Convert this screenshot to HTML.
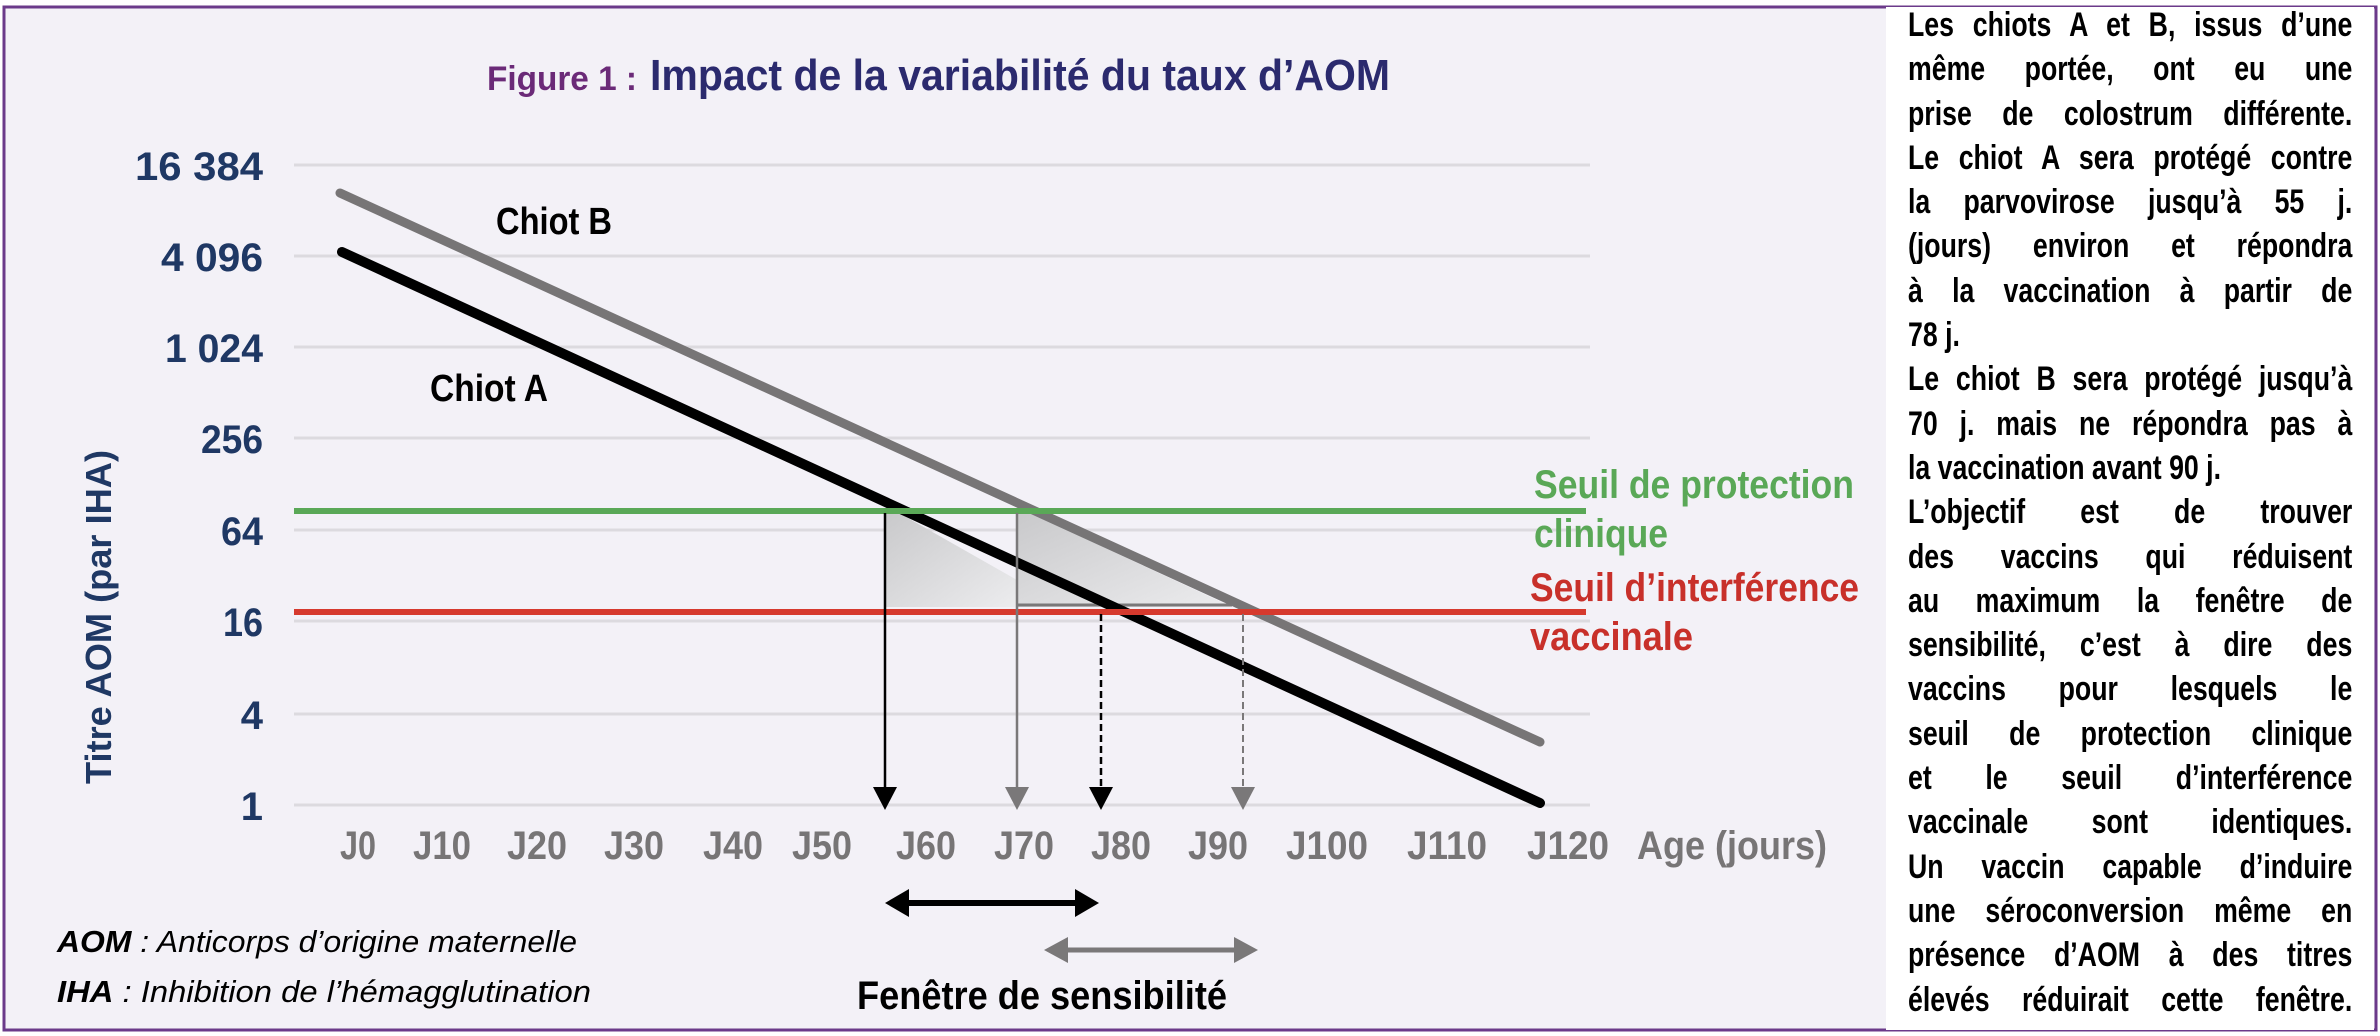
<!DOCTYPE html>
<html><head><meta charset="utf-8"><style>
html,body{margin:0;padding:0;background:#fff;}
#wrap{position:relative;width:2380px;height:1036px;overflow:hidden;}
svg{position:absolute;left:0;top:0;}
#panel{position:absolute;left:1886px;top:7px;width:488px;height:1023px;background:#fff;overflow:hidden;}
#txt{position:absolute;left:22px;top:-4px;width:566px;transform:scaleX(0.785);transform-origin:0 0;font-family:"Liberation Sans",sans-serif;font-weight:bold;font-size:34px;color:#000;}
#txt div{height:44.3px;line-height:44.3px;text-align:justify;text-align-last:justify;white-space:nowrap;overflow:visible;}
#txt div.l{text-align-last:left;}
</style></head><body><div id="wrap">
<svg width="2380" height="1036" viewBox="0 0 2380 1036" font-family="Liberation Sans, sans-serif" font-weight="bold">
<defs><linearGradient id="g" x1="0" y1="0" x2="1" y2="1"><stop offset="0" stop-color="#c9c9cb"/><stop offset="1" stop-color="#ececee"/></linearGradient></defs>
<rect x="4" y="7" width="2372" height="1023" fill="#f3f1f7" stroke="#6b3a8a" stroke-width="3"/>
<text x="487" y="90" font-size="34" fill="#6b2a78" textLength="150" lengthAdjust="spacingAndGlyphs">Figure 1 :</text>
<text x="650" y="90" font-size="44" fill="#2b2a6e" textLength="740" lengthAdjust="spacingAndGlyphs">Impact de la variabilité du taux d’AOM</text>
<g stroke="#dcdadf" stroke-width="3">
<line x1="294" y1="165" x2="1590" y2="165"/><line x1="294" y1="256" x2="1590" y2="256"/>
<line x1="294" y1="347" x2="1590" y2="347"/><line x1="294" y1="438" x2="1590" y2="438"/>
<line x1="294" y1="530" x2="1590" y2="530"/><line x1="294" y1="621" x2="1590" y2="621"/>
<line x1="294" y1="714" x2="1590" y2="714"/><line x1="294" y1="805" x2="1590" y2="805"/>
</g>
<g font-size="40" fill="#1f3864" text-anchor="end">
<text x="263" y="180" textLength="128" lengthAdjust="spacingAndGlyphs">16 384</text>
<text x="263" y="271" textLength="102" lengthAdjust="spacingAndGlyphs">4 096</text>
<text x="263" y="362" textLength="98" lengthAdjust="spacingAndGlyphs">1 024</text>
<text x="263" y="453" textLength="62" lengthAdjust="spacingAndGlyphs">256</text>
<text x="263" y="545" textLength="42" lengthAdjust="spacingAndGlyphs">64</text>
<text x="263" y="636" textLength="40" lengthAdjust="spacingAndGlyphs">16</text>
<text x="263" y="729">4</text>
<text x="263" y="820">1</text>
</g>
<text transform="translate(111,784) rotate(-90)" font-size="36" fill="#1f3864" textLength="334" lengthAdjust="spacingAndGlyphs">Titre AOM (par IHA)</text>
<polygon points="885,513 899,513 1017,580 1017,607 885,607" fill="url(#g)"/>
<polygon points="1017,513 1030,513 1232,607 1017,607" fill="url(#g)"/>
<line x1="1017" y1="605" x2="1232" y2="605" stroke="#7a7879" stroke-width="3"/>
<line x1="340" y1="193" x2="1540" y2="742" stroke="#777576" stroke-width="9" stroke-linecap="round"/>
<line x1="342" y1="252" x2="1540" y2="803" stroke="#000" stroke-width="10" stroke-linecap="round"/>
<line x1="294" y1="511" x2="1586" y2="511" stroke="#5aa857" stroke-width="6"/>
<line x1="294" y1="612" x2="1586" y2="612" stroke="#d63a2e" stroke-width="6"/>
<line x1="885" y1="513" x2="885" y2="790" stroke="#000" stroke-width="2.5"/>
<polygon points="873,787 897,787 885,810" fill="#000"/>
<line x1="1017" y1="513" x2="1017" y2="790" stroke="#7a7879" stroke-width="2.5"/>
<polygon points="1005,787 1029,787 1017,810" fill="#7a7879"/>
<line x1="1101" y1="614" x2="1101" y2="790" stroke="#000" stroke-width="2.5" stroke-dasharray="7,4"/>
<polygon points="1089,787 1113,787 1101,810" fill="#000"/>
<line x1="1243" y1="614" x2="1243" y2="790" stroke="#7a7879" stroke-width="2" stroke-dasharray="7,4"/>
<polygon points="1231,787 1255,787 1243,810" fill="#7a7879"/>
<text x="496" y="234" font-size="38" fill="#000" textLength="116" lengthAdjust="spacingAndGlyphs">Chiot B</text>
<text x="430" y="401" font-size="38" fill="#000" textLength="118" lengthAdjust="spacingAndGlyphs">Chiot A</text>
<g font-size="40" fill="#5aa857"><text x="1534" y="498" textLength="320" lengthAdjust="spacingAndGlyphs">Seuil de protection</text>
<text x="1534" y="547" textLength="134" lengthAdjust="spacingAndGlyphs">clinique</text></g>
<g font-size="40" fill="#c8302a"><text x="1530" y="601" textLength="329" lengthAdjust="spacingAndGlyphs">Seuil d’interférence</text>
<text x="1530" y="650" textLength="163" lengthAdjust="spacingAndGlyphs">vaccinale</text></g>
<g font-size="40" fill="#777576" text-anchor="middle">
<text x="358" y="859" textLength="36" lengthAdjust="spacingAndGlyphs">J0</text>
<text x="442" y="859" textLength="58" lengthAdjust="spacingAndGlyphs">J10</text>
<text x="537" y="859" textLength="60" lengthAdjust="spacingAndGlyphs">J20</text>
<text x="634" y="859" textLength="60" lengthAdjust="spacingAndGlyphs">J30</text>
<text x="733" y="859" textLength="60" lengthAdjust="spacingAndGlyphs">J40</text>
<text x="822" y="859" textLength="60" lengthAdjust="spacingAndGlyphs">J50</text>
<text x="926" y="859" textLength="60" lengthAdjust="spacingAndGlyphs">J60</text>
<text x="1024" y="859" textLength="60" lengthAdjust="spacingAndGlyphs">J70</text>
<text x="1121" y="859" textLength="60" lengthAdjust="spacingAndGlyphs">J80</text>
<text x="1218" y="859" textLength="60" lengthAdjust="spacingAndGlyphs">J90</text>
<text x="1327" y="859" textLength="82" lengthAdjust="spacingAndGlyphs">J100</text>
<text x="1447" y="859" textLength="80" lengthAdjust="spacingAndGlyphs">J110</text>
<text x="1568" y="859" textLength="82" lengthAdjust="spacingAndGlyphs">J120</text>
<text x="1732" y="859" textLength="190" lengthAdjust="spacingAndGlyphs">Age (jours)</text>
</g>
<line x1="900" y1="903" x2="1084" y2="903" stroke="#000" stroke-width="6"/>
<polygon points="885,903 909,889 909,917" fill="#000"/><polygon points="1099,903 1075,889 1075,917" fill="#000"/>
<line x1="1059" y1="950" x2="1243" y2="950" stroke="#7a7879" stroke-width="5"/>
<polygon points="1044,950 1068,937 1068,963" fill="#7a7879"/><polygon points="1258,950 1234,937 1234,963" fill="#7a7879"/>
<text x="857" y="1009" font-size="40" fill="#000" textLength="370" lengthAdjust="spacingAndGlyphs">Fenêtre de sensibilité</text>
<text x="57" y="952" font-size="31" fill="#000" font-style="italic" textLength="520" lengthAdjust="spacingAndGlyphs"><tspan font-weight="bold">AOM</tspan><tspan font-weight="normal"> : Anticorps d’origine maternelle</tspan></text>
<text x="57" y="1002" font-size="31" fill="#000" font-style="italic" textLength="534" lengthAdjust="spacingAndGlyphs"><tspan font-weight="bold">IHA</tspan><tspan font-weight="normal"> : Inhibition de l’hémagglutination</tspan></text>
</svg>
<div id="panel"><div id="txt">
<div>Les chiots A et B, issus d’une</div>
<div>même portée, ont eu une</div>
<div>prise de colostrum différente.</div>
<div>Le chiot A sera protégé contre</div>
<div>la parvovirose jusqu’à 55 j.</div>
<div>(jours) environ et répondra</div>
<div>à la vaccination à partir de</div>
<div class="l">78 j.</div>
<div>Le chiot B sera protégé jusqu’à</div>
<div>70 j. mais ne répondra pas à</div>
<div class="l">la vaccination avant 90 j.</div>
<div>L’objectif est de trouver</div>
<div>des vaccins qui réduisent</div>
<div>au maximum la fenêtre de</div>
<div>sensibilité, c’est à dire des</div>
<div>vaccins pour lesquels le</div>
<div>seuil de protection clinique</div>
<div>et le seuil d’interférence</div>
<div>vaccinale sont identiques.</div>
<div>Un vaccin capable d’induire</div>
<div>une séroconversion même en</div>
<div>présence d’AOM à des titres</div>
<div>élevés réduirait cette fenêtre.</div>
</div></div>
</div></body></html>
